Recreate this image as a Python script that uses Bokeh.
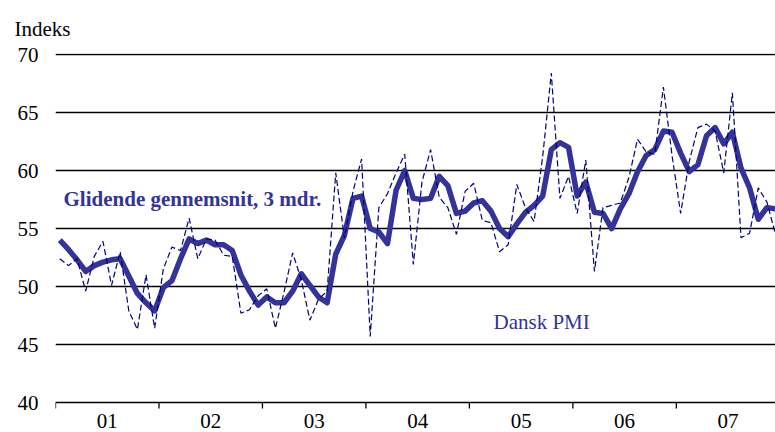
from bokeh.plotting import figure
from bokeh.models import Range1d, FixedTicker, Label
from bokeh.core.properties import value
from bokeh.embed import file_html
from bokeh.resources import INLINE
import numpy as np

# Monthly Danish PMI, Jan 2001 - Dec 2007
pmi = [52.4, 51.8, 52.4, 49.6, 52.6, 53.9, 50.1, 53.0, 47.9, 46.3, 51.0, 46.4,
       51.5, 53.4, 53.1, 55.9, 52.4, 54.1, 54.0, 52.7, 52.6, 47.7, 48.0, 49.2,
       49.8, 46.4, 49.5, 52.9, 50.6, 47.1, 48.9, 49.6, 59.8, 54.2, 58.2, 61.0,
       45.7, 56.8, 58.0, 59.8, 61.4, 51.9, 59.0, 61.8, 57.7, 56.8, 54.5, 58.2,
       58.9, 55.7, 55.5, 53.0, 53.6, 58.8, 56.8, 55.6, 61.2, 68.4, 57.6, 59.5,
       56.3, 60.9, 51.3, 56.8, 57.0, 57.2, 59.4, 62.7, 61.6, 61.4, 67.2, 61.3,
       56.3, 60.8, 63.7, 64.0, 63.4, 59.8, 66.7, 54.2, 54.6, 58.5, 57.3, 54.5]

# 3-month moving average
ma3 = [54.0, 53.2, 52.3, 51.3, 51.8, 52.1, 52.3, 52.4, 50.9, 49.4, 48.6, 47.9,
       49.9, 50.5, 52.4, 54.1, 53.7, 54.0, 53.6, 53.6, 53.1, 51.0, 49.6, 48.4,
       49.1, 48.6, 48.6, 49.6, 51.1, 50.1, 49.1, 48.6, 52.8, 54.4, 57.6, 57.8,
       55.0, 54.7, 53.7, 58.3, 60.0, 57.6, 57.5, 57.6, 59.5, 58.7, 56.3, 56.5,
       57.2, 57.4, 56.5, 55.0, 54.3, 55.4, 56.4, 57.0, 57.8, 61.8, 62.4, 62.0,
       57.8, 59.0, 56.4, 56.3, 55.0, 56.7, 58.0, 59.9, 61.3, 61.8, 63.4, 63.3,
       61.5, 59.9, 60.5, 63.0, 63.7, 62.3, 63.3, 60.2, 58.5, 55.8, 56.8, 56.7]

year_labels = ["01", "02", "03", "04", "05", "06", "07"]
y_ticks = [40, 45, 50, 55, 60, 65, 70]

x = np.arange(len(pmi))
boundaries = [-0.5 + 12 * k for k in range(len(year_labels))]
midpoints = [5.5 + 12 * k for k in range(len(year_labels))]

FONT = "Liberation Serif"
THICK = "#333399"
DASH = "#000080"

PX_PER_UNIT = 11.6          # vertical scale (pixels per index point)
BOTTOM_PAD = 30             # pixels below the 40-line reserved for year labels
y_base = y_ticks[0]

p = figure(width=775, height=432,
           x_range=Range1d(-0.5, 83.0),
           y_range=Range1d(y_base - BOTTOM_PAD / PX_PER_UNIT, 70.09),
           x_axis_type=None,
           output_backend="svg", toolbar_location=None,
           min_border_left=55, min_border_right=0,
           min_border_top=53, min_border_bottom=0)
p.outline_line_color = None
p.background_fill_color = "white"
p.border_fill_color = "white"

# Title used as the unit label
p.title.text = "Indeks"
p.title.align = "left"
p.title.offset = -41
p.title.standoff = 25
p.title.text_font = FONT
p.title.text_font_size = "21px"
p.title.text_font_style = "normal"
p.title.text_color = "black"

# Horizontal grid (40-line doubles as the x axis line)
p.xgrid.visible = False
p.ygrid.ticker = FixedTicker(ticks=y_ticks)
p.ygrid.grid_line_color = "black"
p.ygrid.grid_line_width = 1.4

# Y axis
p.yaxis.ticker = FixedTicker(ticks=y_ticks)
p.yaxis.axis_line_color = None
p.yaxis.major_tick_line_color = None
p.yaxis.minor_tick_line_color = None
p.yaxis.major_tick_out = 0
p.yaxis.major_tick_in = 0
p.yaxis.major_label_standoff = 17
p.yaxis.major_label_text_font = FONT
p.yaxis.major_label_text_font_size = "21px"
p.yaxis.major_label_text_color = "black"

# Year tick marks and labels under the 40-line
tick_len = 6 / PX_PER_UNIT
p.segment(x0=boundaries, y0=[y_base] * len(boundaries),
          x1=boundaries, y1=[y_base - tick_len] * len(boundaries),
          line_color="black", line_width=1.3)
p.text(x=midpoints, y=[y_base] * len(midpoints), text=year_labels,
       y_offset=18, text_align="center", text_baseline="alphabetic",
       text_font=value(FONT), text_font_size="21px", text_color="black")

# Lines
p.line(x, ma3, line_color=THICK, line_width=5.5, line_join="round")
p.line(x, pmi, line_color=DASH, line_width=1.2, line_dash="6 3")

p.add_layout(Label(x=0.43, y=57.55, text="Glidende gennemsnit, 3 mdr.",
                   text_font=FONT, text_font_size="21px", text_font_style="bold",
                   text_color=THICK, text_baseline="alphabetic"))

p.add_layout(Label(x=50.3, y=46.9, text="Dansk PMI",
                   text_font=FONT, text_font_size="21px",
                   text_color=THICK, text_baseline="alphabetic"))

open("out.html", "w").write(file_html(p, INLINE))
